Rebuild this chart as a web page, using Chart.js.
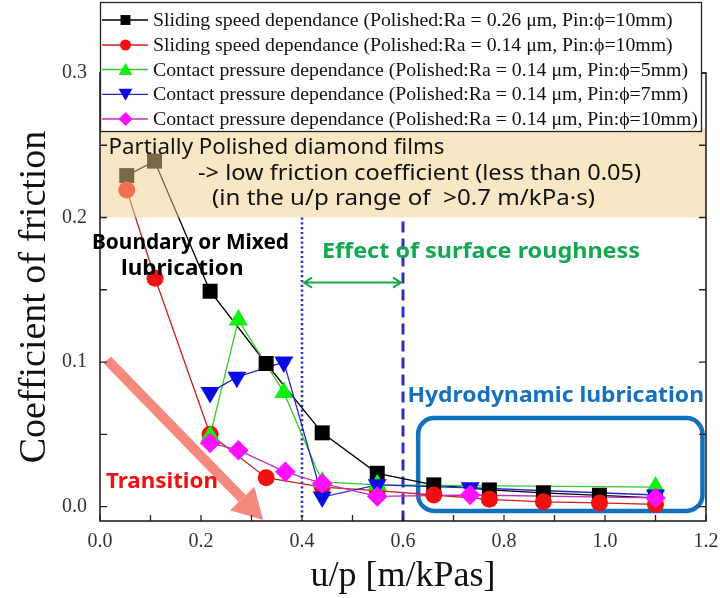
<!DOCTYPE html>
<html><head><meta charset="utf-8">
<script src="https://cdn.jsdelivr.net/npm/chart.js@4/dist/chart.umd.min.js"></script>
<style>html,body{margin:0;padding:0;background:#fff}</style>
</head><body>
<canvas id="c" width="720" height="598"></canvas>
<script>
// ---- data ----
const seriesNames = [
  "Sliding speed dependance (Polished:Ra = 0.26 \u03bcm, Pin:\u03d5=10mm)",
  "Sliding speed dependance (Polished:Ra = 0.14 \u03bcm, Pin:\u03d5=10mm)",
  "Contact pressure dependance (Polished:Ra = 0.14 \u03bcm, Pin:\u03d5=5mm)",
  "Contact pressure dependance (Polished:Ra = 0.14 \u03bcm, Pin:\u03d5=7mm)",
  "Contact pressure dependance (Polished:Ra = 0.14 \u03bcm, Pin:\u03d5=10mm)"
];
const xBlack = [0.053, 0.108, 0.218, 0.329, 0.440, 0.549, 0.661, 0.771, 0.878, 0.989, 1.100];
const yBlack = [0.229, 0.239, 0.149, 0.099, 0.051, 0.023, 0.015, 0.0115, 0.0095, 0.0078, 0.006];
const xRed   = [0.053, 0.109, 0.218, 0.329, 0.440, 0.549, 0.661, 0.771, 0.878, 0.989, 1.100];
const yRed   = [0.219, 0.158, 0.050, 0.020, 0.0135, 0.011, 0.008, 0.005, 0.0033, 0.0025, 0.0015];
const xGreen = [0.218, 0.274, 0.364, 0.440, 0.549, 1.100];
const yGreen = [0.049, 0.129, 0.079, 0.017, 0.015, 0.0135];
const xBlue  = [0.218, 0.271, 0.364, 0.440, 0.549, 0.733, 1.100];
const yBlue  = [0.079, 0.0895, 0.100, 0.0066, 0.015, 0.013, 0.008];
const xMag   = [0.218, 0.274, 0.367, 0.440, 0.549, 0.733, 1.100];
const yMag   = [0.044, 0.039, 0.024, 0.016, 0.007, 0.008, 0.006];
const xTicks = [0, 0.1, 0.2, 0.3, 0.4, 0.5, 0.6, 0.7, 0.8, 0.9, 1.0, 1.1, 1.2];
const yTicks = [0, 0.05, 0.1, 0.15, 0.2, 0.25, 0.3];

// ---- styles ----
const styles = [
  {line:'#000000', marker:'#000000', shape:'rect',     rot:0,   r:10.6, lr:7},
  {line:'#c82020', marker:'#f01010', shape:'circle',   rot:0,   r:8.5,  lr:5.5},
  {line:'#30cc30', marker:'#11f011', shape:'triangle', rot:0,   r:11,   lr:8},
  {line:'#2828c8', marker:'#0a0ae6', shape:'triangle', rot:180, r:11,   lr:8},
  {line:'#c030c0', marker:'#ff10ff', shape:'rectRot',  rot:0,   r:10.3, lr:7}
];
const xs = [xBlack, xRed, xGreen, xBlue, xMag];
const ys = [yBlack, yRed, yGreen, yBlue, yMag];

const datasets = [];
xs.forEach((xa, i) => {
  const pts = xa.map((x, k) => ({x, y: ys[i][k]}));
  const s = styles[i];
  datasets.push({label: seriesNames[i] + ' line', data: pts, showLine: true, pointRadius: 0,
    borderColor: s.line, borderWidth: 1.3, backgroundColor: s.line, order: 20 + (4 - i)});
  datasets.push({label: seriesNames[i], data: pts, showLine: false, pointStyle: s.shape,
    pointRotation: s.rot, pointRadius: s.r, pointHoverRadius: s.r,
    pointBackgroundColor: s.marker, pointBorderColor: s.marker, pointBorderWidth: 0,
    order: 4 - i});
});

function shape(ctx, kind, rot, x, y, r) {
  ctx.beginPath();
  if (kind === 'circle') { ctx.arc(x, y, r, 0, Math.PI * 2); }
  else if (kind === 'rect') { const h = r * Math.SQRT1_2; ctx.rect(x - h, y - h, 2 * h, 2 * h); }
  else if (kind === 'rectRot') { ctx.moveTo(x - r, y); ctx.lineTo(x, y - r); ctx.lineTo(x + r, y); ctx.lineTo(x, y + r); ctx.closePath(); }
  else if (kind === 'triangle') {
    let a = rot * Math.PI / 180;
    for (let k = 0; k < 3; k++) {
      const px = x + Math.sin(a) * r, py = y - Math.cos(a) * r;
      if (k === 0) ctx.moveTo(px, py); else ctx.lineTo(px, py);
      a += 2 * Math.PI / 3;
    }
    ctx.closePath();
  }
  ctx.fill();
}

function arrow(ctx, x1, y1, x2, y2, w, hl, hw, color) {
  const ang = Math.atan2(y2 - y1, x2 - x1);
  const bx = x2 - Math.cos(ang) * hl, by = y2 - Math.sin(ang) * hl;
  ctx.save();
  ctx.strokeStyle = color; ctx.fillStyle = color; ctx.lineWidth = w; ctx.lineCap = 'butt';
  ctx.beginPath(); ctx.moveTo(x1, y1); ctx.lineTo(bx, by); ctx.stroke();
  ctx.beginPath();
  ctx.moveTo(x2, y2);
  ctx.lineTo(bx + Math.sin(ang) * hw / 2, by - Math.cos(ang) * hw / 2);
  ctx.lineTo(bx - Math.sin(ang) * hw / 2, by + Math.cos(ang) * hw / 2);
  ctx.closePath(); ctx.fill();
  ctx.restore();
}

function fitText(ctx, text, x, y, w) {
  const m = ctx.measureText(text).width;
  ctx.save();
  ctx.translate(x, y);
  ctx.scale(w / m, 1);
  ctx.textAlign = 'left';
  ctx.fillText(text, 0, 0);
  ctx.restore();
}

const SANS = '"Noto Sans", "DejaVu Sans", sans-serif';
const SERIF = '"Liberation Serif", "Times New Roman", serif';

const decor = {
  id: 'decor',
  beforeDatasetsDraw(chart) {
    const {ctx, chartArea: a, scales: {x, y}} = chart;
    ctx.save();
    ctx.lineWidth = 2.6; ctx.strokeStyle = '#3434c4'; ctx.setLineDash([2.2, 2.6]);
    ctx.beginPath(); ctx.moveTo(x.getPixelForValue(0.4), y.getPixelForValue(0.2)); ctx.lineTo(x.getPixelForValue(0.4), a.bottom); ctx.stroke();
    ctx.lineWidth = 3; ctx.strokeStyle = '#3030b4'; ctx.setLineDash([11, 6]);
    ctx.beginPath(); ctx.moveTo(x.getPixelForValue(0.6), y.getPixelForValue(0.2) + 4); ctx.lineTo(x.getPixelForValue(0.6), a.bottom); ctx.stroke();
    ctx.setLineDash([]);
    const rx1 = x.getPixelForValue(0.63), rx2 = x.getPixelForValue(1.193);
    const ry1 = y.getPixelForValue(0.0612), ry2 = y.getPixelForValue(-0.003);
    ctx.lineWidth = 4.5; ctx.strokeStyle = '#1570bd';
    ctx.beginPath(); ctx.roundRect(rx1, ry1, rx2 - rx1, ry2 - ry1, 16); ctx.stroke();
    arrow(ctx, x.getPixelForValue(0.0146), y.getPixelForValue(0.1014), x.getPixelForValue(0.323), y.getPixelForValue(-0.0093), 10, 30, 34, '#f4897f');
    const gy = y.getPixelForValue(0.155), gx1 = x.getPixelForValue(0.4) + 2, gx2 = x.getPixelForValue(0.6) - 2;
    ctx.strokeStyle = '#1aa84e'; ctx.lineWidth = 2;
    ctx.beginPath(); ctx.moveTo(gx1, gy); ctx.lineTo(gx2, gy);
    ctx.moveTo(gx1 + 8, gy - 5); ctx.lineTo(gx1, gy); ctx.lineTo(gx1 + 8, gy + 5);
    ctx.moveTo(gx2 - 8, gy - 5); ctx.lineTo(gx2, gy); ctx.lineTo(gx2 - 8, gy + 5);
    ctx.stroke();
    ctx.restore();
  },
  afterDatasetsDraw(chart) {
    const {ctx, chartArea: a, scales: {x, y}} = chart;
    ctx.save();
    const b1 = y.getPixelForValue(0.262), b2 = y.getPixelForValue(0.2);
    ctx.fillStyle = 'rgba(242,208,140,0.5)';
    ctx.fillRect(a.left, b1, a.right - a.left, b2 - b1);
    ctx.strokeStyle = '#222'; ctx.lineWidth = 1.6;
    ctx.strokeRect(a.left, a.top, a.right - a.left, a.bottom - a.top);
    ctx.lineWidth = 1.3;
    ctx.beginPath();
    y.ticks.forEach(t => {
      const py = y.getPixelForValue(t.value);
      ctx.moveTo(a.left, py); ctx.lineTo(a.left + 7, py);
      ctx.moveTo(a.right, py); ctx.lineTo(a.right - 7, py);
    });
    x.ticks.forEach(t => {
      const px = x.getPixelForValue(t.value);
      ctx.moveTo(px, a.bottom); ctx.lineTo(px, a.bottom - 6);
    });
    ctx.stroke();
    ctx.textBaseline = 'middle';
    ctx.fillStyle = '#111';
    ctx.font = '22px ' + SANS;
    fitText(ctx, 'Partially Polished diamond films', 108.5, 147.5, 336);
    fitText(ctx, '-> low friction coefficient (less than 0.05)', 198, 174, 443);
    fitText(ctx, '(in the u/p range of  >0.7 m/kPa\u00b7s)', 212, 199, 383);
    ctx.font = 'bold 22px ' + SANS;
    ctx.fillStyle = '#000';
    fitText(ctx, 'Boundary or Mixed', 92, 243, 197);
    fitText(ctx, 'lubrication', 121, 268.5, 122.5);
    ctx.fillStyle = '#12a84e';
    fitText(ctx, 'Effect of surface roughness', 322, 252, 318);
    ctx.fillStyle = '#1570bd';
    fitText(ctx, 'Hydrodynamic lubrication', 407.5, 396, 296.5);
    ctx.fillStyle = '#f01010';
    fitText(ctx, 'Transition', 106, 482, 112);
    ctx.restore();
  },
  afterDraw(chart) {
    const {ctx} = chart;
    ctx.save();
    ctx.fillStyle = '#fff'; ctx.strokeStyle = '#222'; ctx.lineWidth = 1.3;
    ctx.fillRect(100, 2, 602, 130); ctx.strokeRect(100.5, 2.5, 601, 129);
    const rowY = [20, 45, 69.5, 94.3, 119];
    ctx.font = '19.8px ' + SERIF; ctx.textBaseline = 'middle'; ctx.textAlign = 'left';
    styles.forEach((s, i) => {
      const yy = rowY[i];
      ctx.strokeStyle = s.line; ctx.lineWidth = 1.3;
      ctx.beginPath(); ctx.moveTo(102, yy); ctx.lineTo(148, yy); ctx.stroke();
      ctx.fillStyle = s.marker;
      shape(ctx, s.shape, s.rot, 125.5, yy + (s.shape === 'triangle' ? (s.rot ? -1.5 : 1.5) : 0), s.lr);
      ctx.fillStyle = '#111';
      ctx.fillText(seriesNames[i], 153, yy + 1);
    });
    ctx.restore();
  }
};

new Chart(document.getElementById('c'), {
  type: 'scatter',
  data: {datasets},
  options: {
    responsive: false, animation: false, devicePixelRatio: 1,
    layout: {padding: {top: 73, right: 14, left: 0, bottom: 0}},
    plugins: {legend: {display: false}, tooltip: {enabled: false}},
    scales: {
      x: {
        type: 'linear', min: 0, max: 1.2,
        afterBuildTicks: s => { s.ticks = xTicks.map(v => ({value: v})); },
        afterFit: s => { s.height = 77; s.paddingLeft = 0; s.paddingRight = 0; },
        grid: {display: false, drawTicks: false},
        border: {display: false},
        ticks: {autoSkip: false, maxRotation: 0, padding: 9, color: '#333',
          font: {family: SERIF, size: 20},
          callback: v => (Math.abs(v * 5 - Math.round(v * 5)) < 1e-6 ? v.toFixed(1) : '')},
        title: {display: true, text: 'u/p [m/kPas]', color: '#111',
          font: {family: SERIF, size: 36}, padding: {top: 0, bottom: 0}}
      },
      y: {
        type: 'linear', min: -0.01, max: 0.3,
        afterBuildTicks: s => { s.ticks = yTicks.map(v => ({value: v})); },
        afterFit: s => { s.width = 100; s.paddingTop = 0; s.paddingBottom = 0; },
        grid: {display: false, drawTicks: false},
        border: {display: false},
        ticks: {autoSkip: false, padding: 13, color: '#333',
          font: {family: SERIF, size: 20},
          callback: v => (Math.abs(v * 10 - Math.round(v * 10)) < 1e-6 ? v.toFixed(1) : '')},
        title: {display: true, text: 'Coefficient of friction', color: '#111',
          font: {family: SERIF, size: 38}, padding: {top: 12, bottom: 0}}
      }
    }
  },
  plugins: [decor]
});
</script>
</body></html>
